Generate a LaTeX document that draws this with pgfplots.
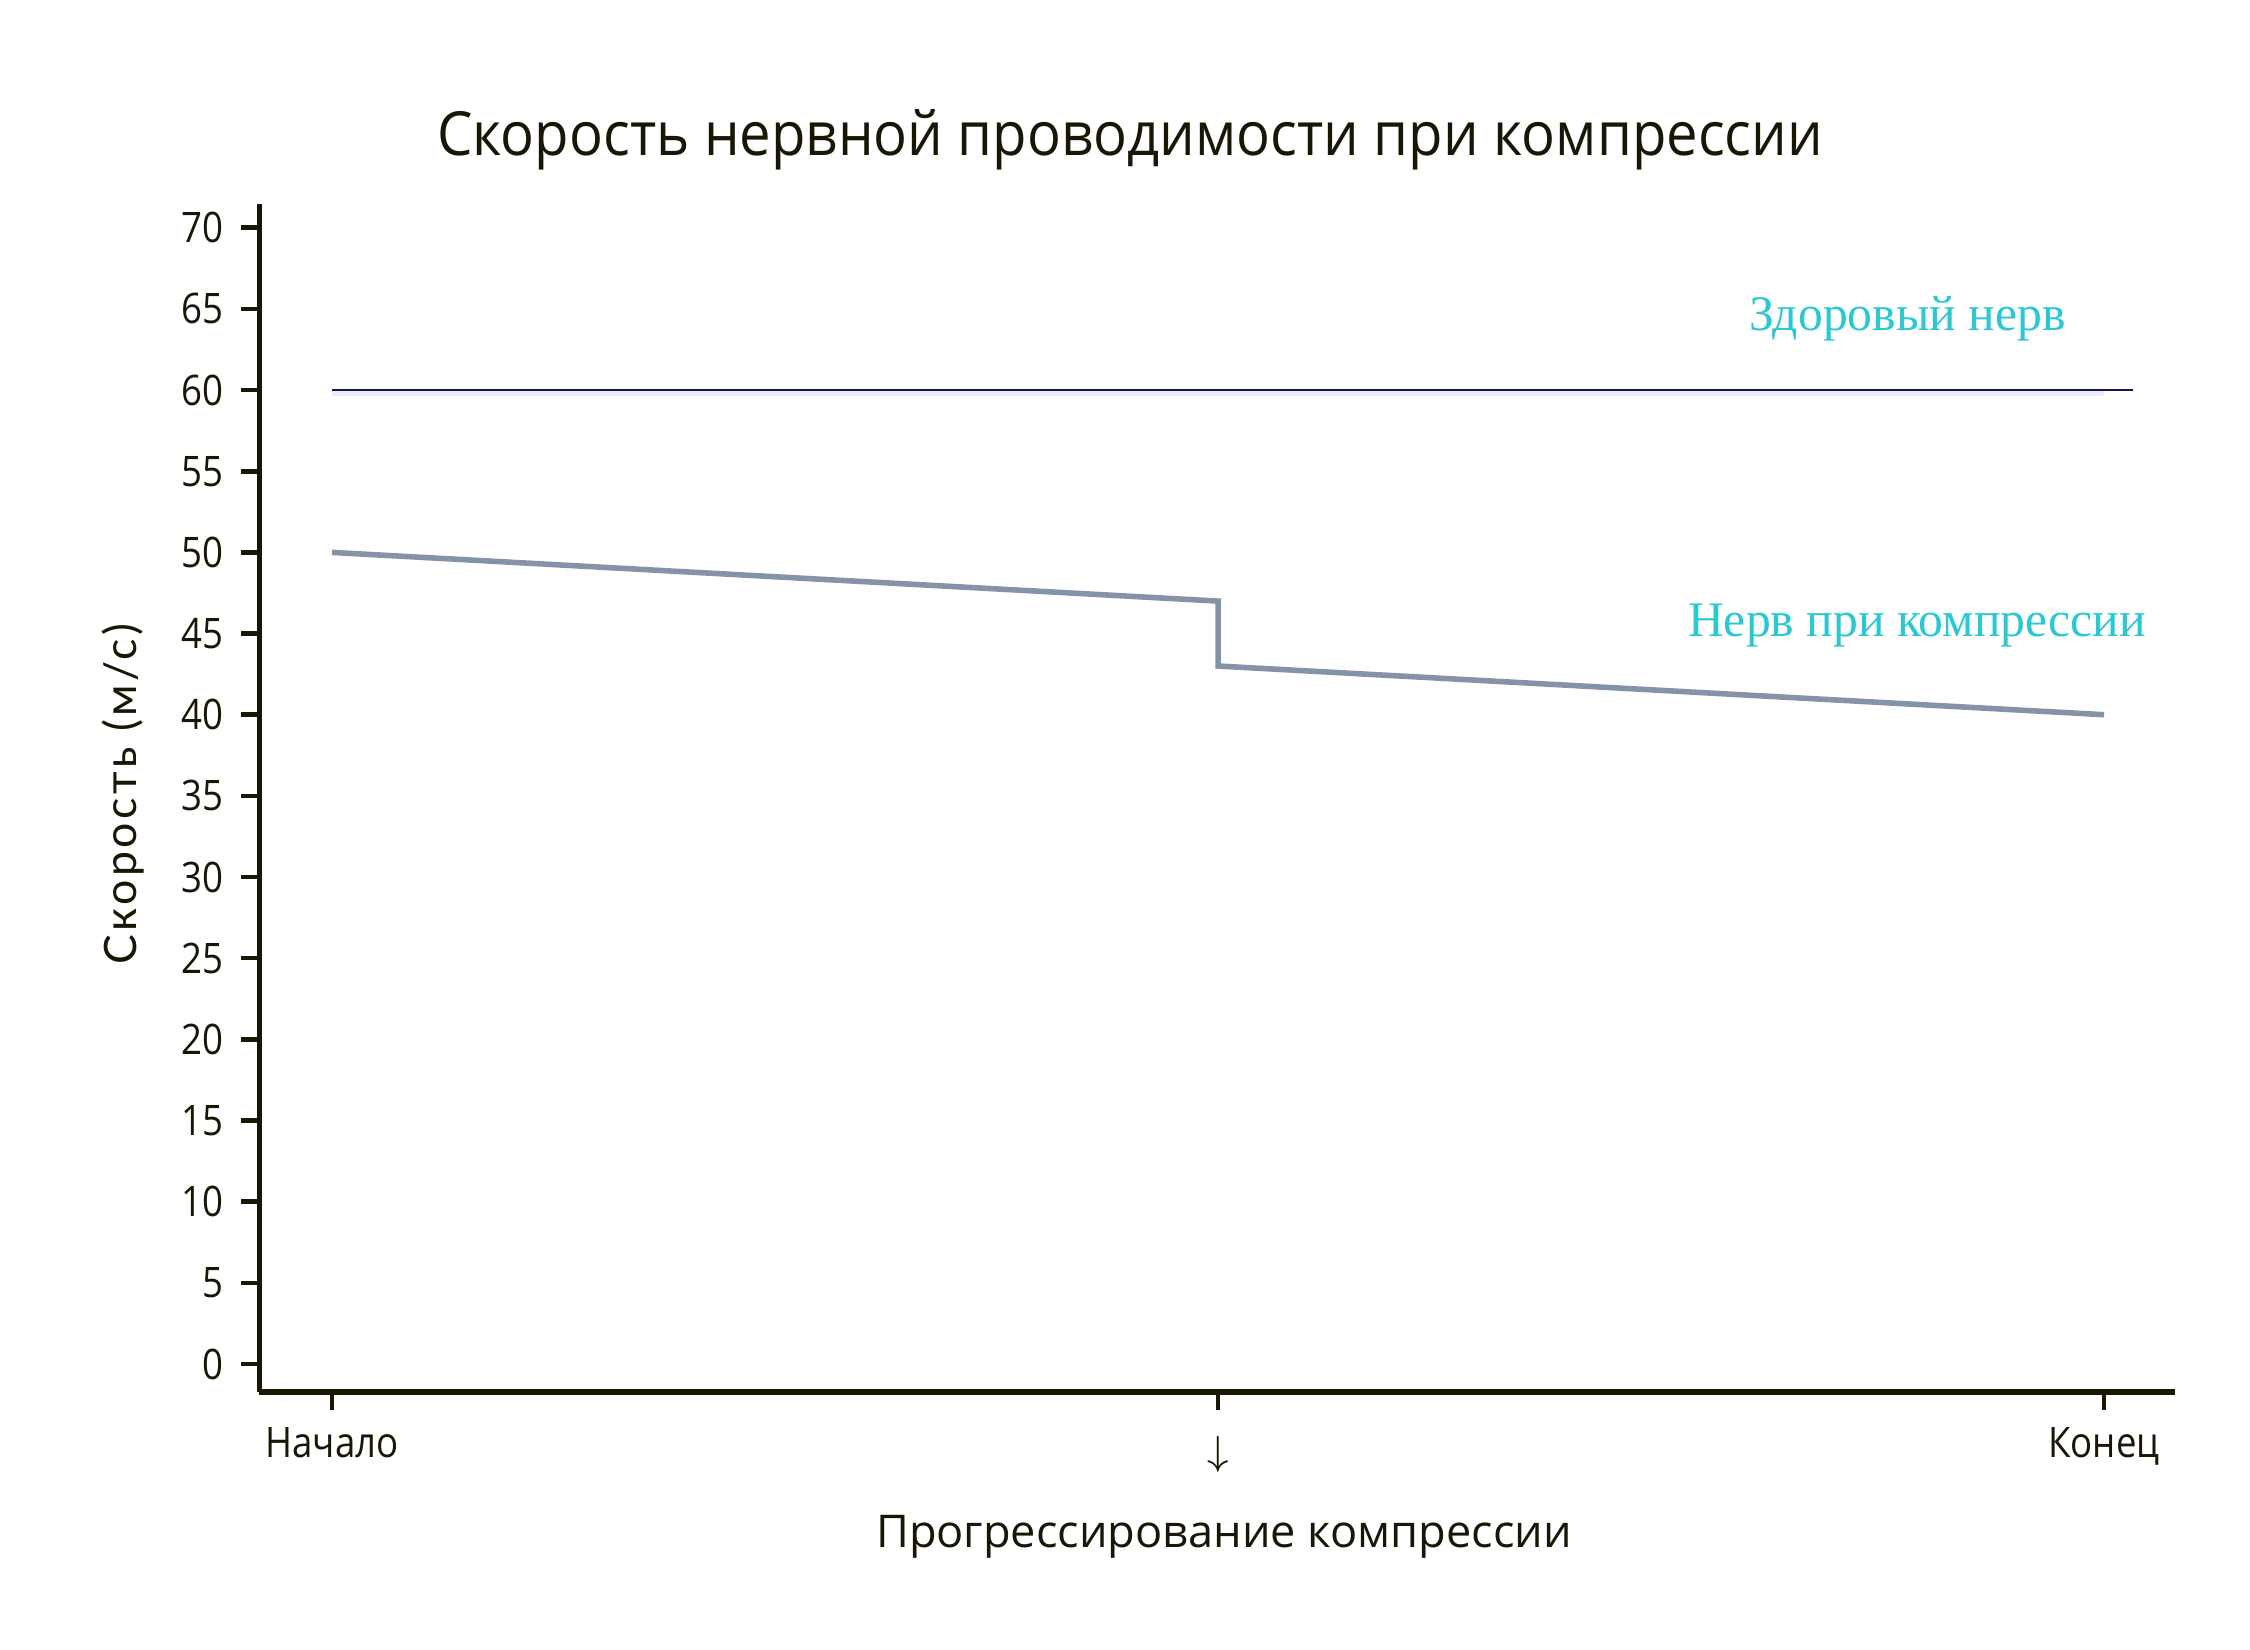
\documentclass[border=0pt]{standalone}
\usepackage{fontspec}
\setmainfont{Open Sans}
\newfontfamily\tickfont[FakeStretch=0.87]{Open Sans}
\newfontfamily\titlefont[FakeStretch=0.925]{Open Sans}
\newfontfamily\gillfont[LetterSpace=8]{Lato}
\newfontfamily\timesfont{Liberation Serif}
\usepackage{pgfplots}
\pgfplotsset{compat=1.18}

\definecolor{axisdark}{RGB}{26,22,6}
\definecolor{nervegray}{RGB}{133,147,168}
\definecolor{healthynavy}{RGB}{24,24,84}
\definecolor{bandlav}{RGB}{236,236,255}
\definecolor{labelcyan}{RGB}{41,200,210}

\begin{document}
\begin{tikzpicture}
\path[use as bounding box] (0,0) rectangle (15.6,11.44);
\begin{axis}[
    at={(1.796cm,1.789cm)}, anchor=south west,
    scale only axis,
    width=13.284cm, height=8.237cm,
    xmin=-0.0824, xmax=2.0801,
    ymin=-1.725, ymax=71.47,
    axis x line=bottom, axis y line=left,
    axis line style={-, line width=1pt, draw=axisdark},
    tick align=outside,
    major tick length=0.125cm,
    tick style={line width=0.9pt, draw=axisdark},
    xtick={0,1,2},
    xticklabels={Начало,\raisebox{-1.6pt}[\height]{$\downarrow$},Конец},
    ytick={0,5,...,70},
    ticklabel style={font=\tickfont\fontsize{8.3}{10}\selectfont, text=axisdark},
    /pgf/number format/assume math mode=true,
    every axis title shift=0pt,
    title={Скорость нервной проводимости при компрессии},
    title style={at={(axis description cs:0.4546,1.0404)}, anchor=base,
                 font=\titlefont\fontsize{12}{14}\selectfont, text=axisdark},
    xlabel={Прогрессирование компрессии},
    xlabel style={at={(axis description cs:0.5036,-0.1313)}, anchor=base,
                  font=\fontsize{8.9}{11}\selectfont, text=axisdark},
    ylabel={Скорость (м/с)},
    ylabel style={at={(axis description cs:-0.0637,0.503)}, anchor=base,
                  font=\gillfont\fontsize{8.8}{10}\selectfont, text=axisdark},
    clip=false,
]
% faint band under the healthy-nerve line
\addplot[bandlav, line width=1.2pt, forget plot] coordinates {(0,59.85) (2,59.85)};
% healthy nerve
\addplot[healthynavy, line width=0.3pt] coordinates {(0,60) (2.033,60)};
% nerve under compression
\addplot[nervegray, line width=1.1pt, line join=miter] coordinates {
    (0,50) (1,47) (1,43) (2,40)
};

\node[anchor=base, text=labelcyan, font=\timesfont\fontsize{9.8}{12}\selectfont]
    at (axis cs:1.778,63.65) {Здоровый нерв};
\node[anchor=base, text=labelcyan, font=\timesfont\fontsize{9.8}{12}\selectfont]
    at (axis cs:1.789,44.8) {Нерв при компрессии};
\end{axis}
\end{tikzpicture}
\end{document}
